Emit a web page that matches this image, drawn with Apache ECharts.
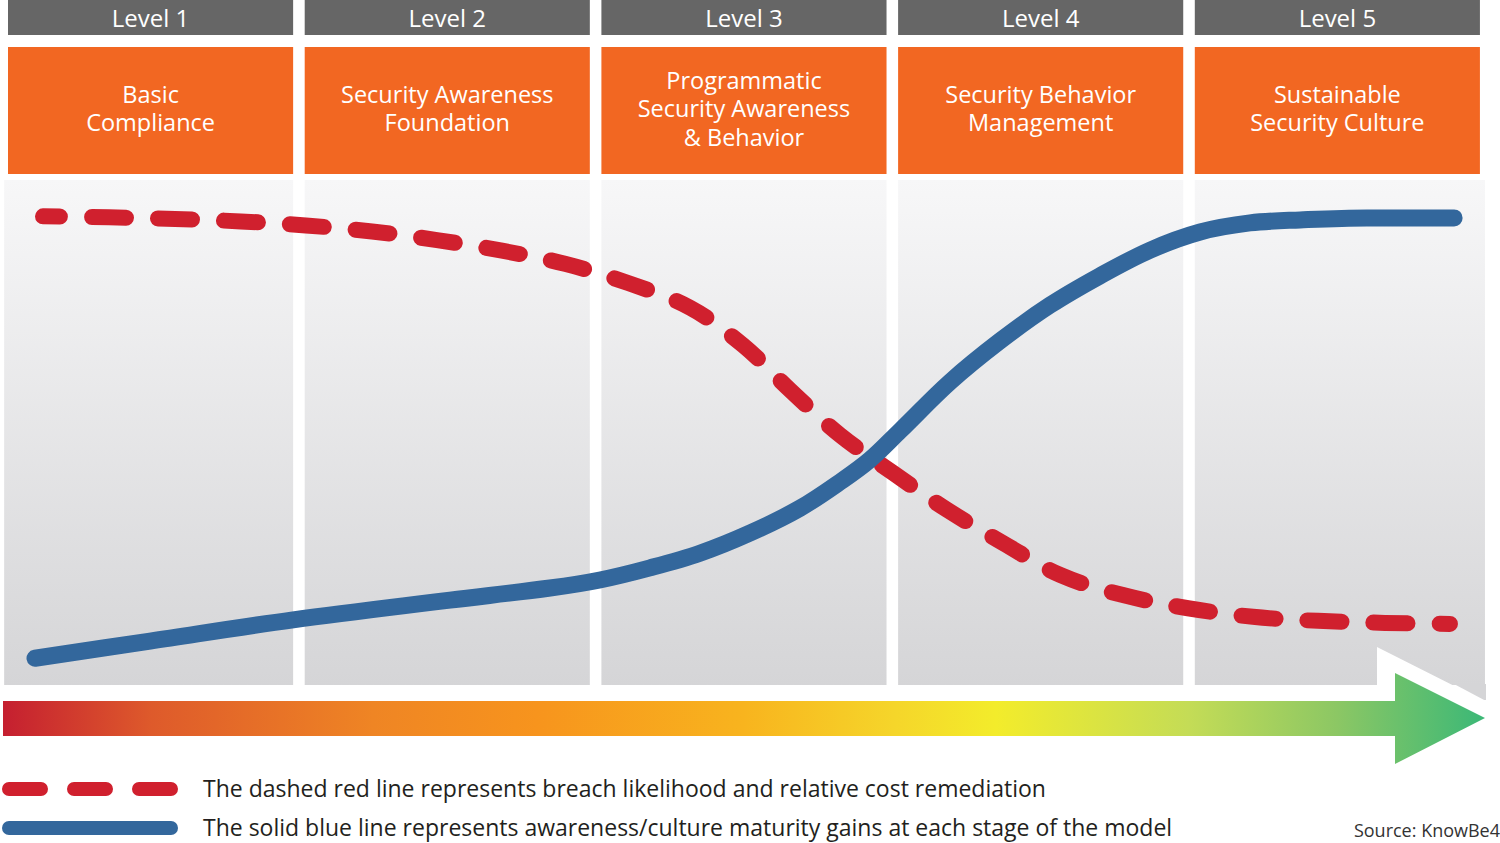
<!DOCTYPE html>
<html><head><meta charset="utf-8">
<script src="https://cdn.jsdelivr.net/npm/echarts@6/dist/echarts.min.js"></script>
<style>html,body{margin:0;padding:0;background:#fff}#c{width:1500px;height:843px}</style>
</head><body><div id="c"></div>
<script>
// ---- data ----
const levelLabels = ['Level 1', 'Level 2', 'Level 3', 'Level 4', 'Level 5'];
const stageNames = [
  ['Basic', 'Compliance'],
  ['Security Awareness', 'Foundation'],
  ['Programmatic', 'Security Awareness', '& Behavior'],
  ['Security Behavior', 'Management'],
  ['Sustainable', 'Security Culture']
];
// x in "levels" (0 = start of Level 1 column), y = relative index 0..100
const redX = [0.118, 0.340, 0.563, 0.785, 1.004, 1.227, 1.446, 1.665, 1.877, 2.090, 2.299, 2.477, 2.636, 2.804, 2.983, 3.165, 3.354, 3.546, 3.758, 3.977, 4.196, 4.415, 4.641, 4.860];
const redY = [92.8, 92.6, 92.3, 91.8, 91.0, 89.8, 88.1, 86.0, 83.4, 79.6, 74.7, 67.3, 58.4, 49.5, 42.0, 34.7, 28.1, 21.8, 17.8, 15.2, 13.5, 12.7, 12.3, 12.1];
const blueX = [0.091, 0.479, 0.961, 1.490, 1.827, 1.995, 2.164, 2.332, 2.501, 2.669, 2.814, 2.905, 3.006, 3.175, 3.343, 3.512, 3.680, 3.849, 4.018, 4.186, 4.355, 4.580, 4.874];
const blueY = [5.3, 8.7, 12.9, 16.8, 19.2, 20.8, 23.2, 26.1, 30.1, 35.0, 40.6, 44.6, 50.3, 60.0, 68.1, 75.2, 81.0, 86.1, 89.7, 91.5, 92.1, 92.5, 92.5];
const legendLabels = ['The dashed red line represents breach likelihood and relative cost remediation', 'The solid blue line represents awareness/culture maturity gains at each stage of the model'];
const sourceText = 'Source: KnowBe4';

// ---- styles ----
const FONT = '"Open Sans", "Noto Sans", sans-serif';
const RED = '#d0202e', BLUE = '#33679c', ORANGE = '#f26722', HEADGRAY = '#666666';
const COLW = 0.961;
const LINE_H = 28.5;

const chart = echarts.init(document.getElementById('c'), null, {renderer: 'svg'});

function panelStyle() {
  return {color: {type: 'linear', x: 0, y: 0, x2: 0, y2: 1,
    colorStops: [{offset: 0, color: '#f7f7f8'}, {offset: 1, color: '#d5d5d7'}]}};
}

chart.setOption({
  animation: false,
  backgroundColor: '#ffffff',
  grid: {left: 2.07, right: 8.5, top: 180, bottom: 158},
  xAxis: {type: 'value', min: -0.02, max: 5, show: false},
  yAxis: {type: 'value', min: 0, max: 100, show: false},
  series: [
    {type: 'line', data: [], silent: true, z: 1,
     markArea: {silent: true, z: 1,
       data: levelLabels.map((l, i) => [
         {xAxis: i === 0 ? -0.013 : i, yAxis: 100, itemStyle: panelStyle()},
         {xAxis: i === levelLabels.length - 1 ? i + 0.978 : i + COLW, yAxis: 0}
       ])}},
    {name: legendLabels[0], type: 'line', z: 5, smooth: 0.35, showSymbol: false, silent: true,
     data: redX.map((x, i) => [x, redY[i]]),
     lineStyle: {color: RED, width: 16, type: [34, 32], dashOffset: 17, cap: 'round', join: 'round'}},
    {name: legendLabels[1], type: 'line', z: 6, smooth: 0.35, showSymbol: false, silent: true,
     data: blueX.map((x, i) => [x, blueY[i]]),
     lineStyle: {color: BLUE, width: 17, cap: 'round', join: 'round'}}
  ]
});

const px = v => chart.convertToPixel({xAxisIndex: 0}, v);
const g = [];
levelLabels.forEach((lab, i) => {
  const x0 = px(i), x1 = px(i + COLW), cx = (x0 + x1) / 2;
  g.push({type: 'rect', z: 3, shape: {x: x0, y: 0, width: x1 - x0, height: 35}, style: {fill: HEADGRAY}});
  g.push({type: 'text', z: 4, x: cx, y: 17, style: {text: lab, fill: '#ffffff', font: '24px ' + FONT, align: 'center', verticalAlign: 'middle'}});
  g.push({type: 'rect', z: 3, shape: {x: x0, y: 47, width: x1 - x0, height: 127}, style: {fill: ORANGE}});
  const lines = stageNames[i];
  const y0 = 109 - (lines.length - 1) * LINE_H / 2;
  lines.forEach((t, k) => {
    g.push({type: 'text', z: 4, x: cx, y: y0 + k * LINE_H - 1, style: {text: t, fill: '#ffffff', font: '23.5px ' + FONT, align: 'center', verticalAlign: 'middle'}});
  });
});
// cut-out around the arrow head and small panel extension
g.push({type: 'polygon', z: 2, shape: {points: [[1454, 684], [1486, 684], [1486, 701]]}, style: {fill: '#d5d5d7'}});
g.push({type: 'polygon', z: 2, shape: {points: [[1377, 647], [1500, 709], [1500, 700], [1377, 700]]}, style: {fill: '#ffffff'}});
g.push({type: 'rect', z: 2, shape: {x: 1377, y: 684, width: 30, height: 20}, style: {fill: '#ffffff'}});
// progress arrow
g.push({type: 'polygon', z: 3,
  shape: {points: [[3, 701], [1395, 701], [1395, 673], [1485, 718], [1395, 764], [1395, 736], [3, 736]]},
  style: {fill: {type: 'linear', x: 0, y: 0, x2: 1, y2: 0, colorStops: [
    {offset: 0, color: '#c51f30'}, {offset: 0.1, color: '#de5a2b'}, {offset: 0.25, color: '#ef8524'},
    {offset: 0.36, color: '#f7941d'}, {offset: 0.5, color: '#f8b41e'}, {offset: 0.6, color: '#f5d52a'},
    {offset: 0.67, color: '#f3ec2b'}, {offset: 0.8, color: '#c4dc56'}, {offset: 0.9, color: '#8cc764'},
    {offset: 1, color: '#3bb877'}]}}});
// legend
g.push({type: 'line', z: 3, shape: {x1: 9, y1: 789, x2: 171, y2: 789}, style: {stroke: RED, lineWidth: 14, lineCap: 'round', lineDash: [32, 33]}});
g.push({type: 'line', z: 3, shape: {x1: 9, y1: 828, x2: 171, y2: 828}, style: {stroke: BLUE, lineWidth: 14, lineCap: 'round'}});
g.push({type: 'text', z: 4, x: 203, y: 788, style: {text: legendLabels[0], fill: '#231f20', font: '23px ' + FONT, verticalAlign: 'middle'}});
g.push({type: 'text', z: 4, x: 203, y: 827, style: {text: legendLabels[1], fill: '#231f20', font: '23px ' + FONT, verticalAlign: 'middle'}});
g.push({type: 'text', z: 4, x: 1500, y: 830, style: {text: sourceText, fill: '#333333', font: '18px ' + FONT, align: 'right', verticalAlign: 'middle'}});

chart.setOption({graphic: {elements: g}});
</script>
</body></html>
